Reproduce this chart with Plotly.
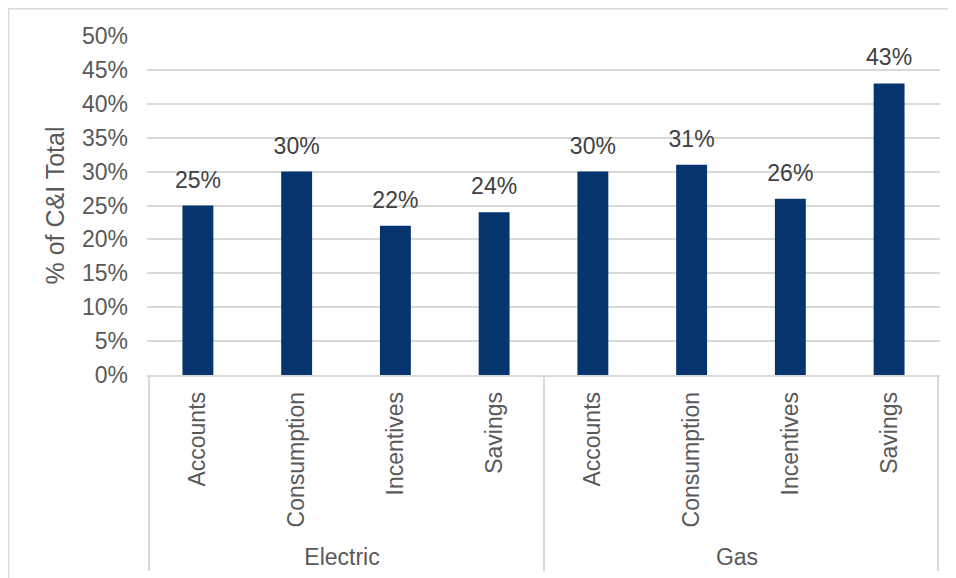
import plotly.graph_objects as go

groups = ["Electric"] * 4 + ["Gas"] * 4
categories = ["Accounts", "Consumption", "Incentives", "Savings"] * 2
values = [0.25, 0.30, 0.22, 0.24, 0.30, 0.31, 0.26, 0.43]
labels = ["25%", "30%", "22%", "24%", "30%", "31%", "26%", "43%"]

BAR = "#05346f"
GRID = "#d9d9d9"
FONT = "Liberation Sans, Arial, sans-serif"

fig = go.Figure()
fig.add_trace(go.Bar(
    x=[groups, categories], y=values,
    marker=dict(color=BAR, line=dict(width=0)),
    hoverinfo="skip",
))
fig.add_trace(go.Scatter(
    x=[groups, categories], y=values,
    mode="markers+text", text=labels, textposition="top center",
    marker=dict(size=18, color="rgba(0,0,0,0)"),
    textfont=dict(family=FONT, size=23, color="#404040"),
    hoverinfo="skip", showlegend=False,
))

fig.update_layout(
    width=956, height=578,
    margin=dict(l=139, r=24, t=28, b=211, autoexpand=False),
    paper_bgcolor="white", plot_bgcolor="white",
    showlegend=False, bargap=0.687,
    font=dict(family=FONT, size=23, color="#595959"),
    shapes=[dict(type="rect", xref="paper", yref="paper",
                 x0=-0.1747, x1=1.08, y0=-0.8, y1=1.0804,
                 line=dict(color=GRID, width=1.5), layer="below")],
)
fig.update_xaxes(
    type="multicategory", tickangle=-90,
    showline=True, linecolor=GRID, linewidth=1.5,
    showdividers=True, dividercolor=GRID, dividerwidth=1.5,
    ticks="", showgrid=False, automargin=False,
    tickfont=dict(family=FONT, size=23, color="#595959"),
    ticklabelstandoff=6,
)
fig.update_yaxes(
    range=[0, 0.5], dtick=0.05, tickformat=".0%",
    showgrid=True, gridcolor=GRID, gridwidth=1.5,
    zeroline=False, showline=False, ticks="",
    ticklabelstandoff=18, automargin=False,
    title=dict(text="% of C&I Total", font=dict(family=FONT, size=25, color="#595959"), standoff=10),
    tickfont=dict(family=FONT, size=23, color="#595959"),
)

fig.write_html("out.html")
